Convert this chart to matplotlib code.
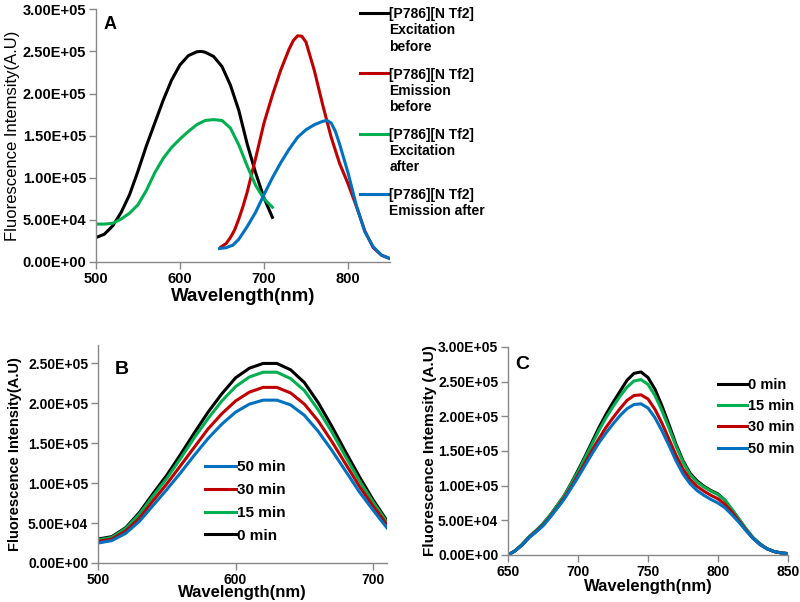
#!/usr/bin/env python3
# coding=utf-8

import matplotlib
matplotlib.use('Agg')
import matplotlib.pyplot as plt

plt.rcParams['font.family'] = ['Liberation Sans', 'DejaVu Sans']

# Farger (Excel-standard)
SVART = '#000000'
ROD = '#C00000'
GRONN = '#00B050'
BLA = '#0070C0'
GRA = '#888888'

# Panel A - eksitasjon/emisjon foer og etter (verdier i 1e4)
a_eks_foer_x = [500, 510, 520, 530, 540, 550, 560, 570, 580, 590, 600, 610,
                620, 625, 630, 640, 650, 660, 670, 680, 690, 700, 710]
a_eks_foer_y = [2.9, 3.3, 4.3, 5.9, 8.0, 10.8, 13.8, 16.5, 19.2, 21.6, 23.4, 24.5,
                24.95, 25.0, 24.9, 24.4, 23.2, 21.0, 18.0, 14.0, 10.6, 7.6, 5.3]

a_eks_etter_x = [500, 510, 520, 530, 540, 550, 560, 570, 580, 590, 600, 610,
                 620, 630, 640, 650, 660, 670, 680, 690, 700, 710]
a_eks_etter_y = [4.5, 4.5, 4.6, 5.1, 5.8, 6.8, 8.5, 10.6, 12.3, 13.6, 14.6, 15.5,
                 16.3, 16.8, 16.9, 16.8, 15.9, 13.9, 11.4, 9.1, 7.5, 6.5]

a_em_foer_x = [649, 655, 660, 665, 670, 675, 680, 690, 700, 710, 720, 730, 735, 740,
               745, 750, 760, 770, 780, 790, 800, 810, 820, 830, 840, 850]
a_em_foer_y = [1.8, 2.2, 2.9, 3.8, 5.1, 6.6, 8.3, 12.3, 16.5, 19.8, 22.8, 25.3, 26.3, 26.85,
               26.8, 26.1, 22.7, 18.6, 14.8, 11.7, 9.3, 6.6, 3.7, 1.7, 0.8, 0.4]

a_em_etter_x = [647, 655, 663, 670, 680, 690, 700, 710, 720, 730, 740, 750, 760,
                765, 770, 775, 780, 785, 790, 800, 810, 820, 830, 840, 850]
a_em_etter_y = [1.6, 1.7, 2.0, 2.7, 4.2, 5.9, 8.0, 10.0, 11.8, 13.4, 14.8, 15.7, 16.3,
                16.5, 16.7, 16.8, 16.5, 15.5, 14.0, 10.6, 6.7, 3.6, 1.8, 0.8, 0.4]

a_etiketter = ['[P786][N Tf2]\nExcitation\nbefore',
               '[P786][N Tf2]\nEmission\nbefore',
               '[P786][N Tf2]\nExcitation\nafter',
               '[P786][N Tf2]\nEmission after']

# Panel B - eksitasjon over tid (verdier i 1e4)
b_x = [500, 510, 520, 530, 540, 550, 560, 570, 580, 590, 600, 610,
       620, 630, 640, 650, 660, 670, 680, 690, 700, 710]
b_0 = [3.0, 3.3, 4.4, 6.3, 8.7, 11.0, 13.6, 16.3, 18.9, 21.2, 23.2, 24.4,
       25.0, 25.0, 24.2, 22.6, 20.1, 17.1, 13.9, 10.8, 7.9, 5.3]
b_15 = [2.9, 3.2, 4.3, 6.1, 8.4, 10.6, 13.1, 15.7, 18.1, 20.3, 22.1, 23.3,
        23.9, 23.9, 23.1, 21.6, 19.2, 16.4, 13.3, 10.3, 7.6, 5.1]
b_30 = [2.7, 3.0, 4.0, 5.6, 7.8, 9.9, 12.2, 14.5, 16.8, 18.7, 20.3, 21.4,
        22.0, 22.0, 21.3, 19.9, 17.8, 15.2, 12.4, 9.6, 7.1, 4.8]
b_50 = [2.5, 2.8, 3.7, 5.2, 7.2, 9.2, 11.3, 13.5, 15.6, 17.4, 18.9, 19.9,
        20.4, 20.4, 19.8, 18.5, 16.5, 14.1, 11.5, 8.9, 6.6, 4.4]

# Panel C - emisjon over tid (verdier i 1e4)
c_x = [650, 655, 660, 665, 670, 675, 680, 685, 690, 695, 700, 705, 710, 715,
       720, 725, 730, 735, 740, 745, 750, 755, 760, 765, 770, 775, 780, 785,
       790, 795, 800, 805, 810, 815, 820, 825, 830, 835, 840, 845, 850]
c_0 = [0.0, 0.6, 1.5, 2.6, 3.5, 4.5, 5.7, 7.1, 8.5, 10.3, 12.2, 14.2, 16.3, 18.4,
       20.3, 22.0, 23.6, 25.2, 26.2, 26.4, 25.6, 23.9, 21.5, 18.8, 16.0, 13.6, 11.8, 10.7,
       9.9, 9.3, 8.8, 7.9, 6.5, 5.1, 3.7, 2.5, 1.6, 0.9, 0.5, 0.3, 0.2]
c_15 = [0.0, 0.6, 1.5, 2.6, 3.5, 4.5, 5.7, 7.1, 8.5, 10.2, 12.0, 14.0, 16.0, 18.0,
        19.8, 21.4, 22.9, 24.2, 25.1, 25.3, 24.6, 23.0, 20.8, 18.3, 15.7, 13.4, 11.6, 10.5,
        9.8, 9.2, 8.7, 7.9, 6.6, 5.2, 3.8, 2.5, 1.6, 0.9, 0.5, 0.3, 0.2]
c_30 = [0.0, 0.6, 1.4, 2.5, 3.4, 4.3, 5.5, 6.8, 8.2, 9.8, 11.5, 13.3, 15.1, 16.8,
        18.4, 19.8, 21.1, 22.3, 23.0, 23.1, 22.5, 21.0, 19.0, 16.7, 14.4, 12.4, 10.9, 9.9,
        9.2, 8.6, 8.1, 7.3, 6.2, 4.9, 3.6, 2.4, 1.5, 0.9, 0.5, 0.3, 0.2]
c_50 = [0.0, 0.6, 1.4, 2.5, 3.3, 4.2, 5.4, 6.7, 8.0, 9.6, 11.2, 12.9, 14.6, 16.2,
        17.6, 18.9, 20.1, 21.1, 21.7, 21.8, 21.2, 19.8, 17.9, 15.8, 13.6, 11.7, 10.3, 9.3,
        8.6, 8.0, 7.5, 6.8, 5.8, 4.7, 3.5, 2.4, 1.5, 0.9, 0.5, 0.3, 0.2]

tid_etiketter = ['0 min', '15 min', '30 min', '50 min']


def skaler(verdier):
    """ Gjoer om fra 1e4-enheter til faktisk intensitet """
    return [v * 1e4 for v in verdier]


def fmt_sci(v, pos):
    """ Excel-format for aksetall, f.eks. 2.50E+05 """
    if v == 0:
        return '0.00E+00'
    return '%.2E' % v


def stil_akse(ax, tickstr=10):
    """ Excel-aktig stil: bare venstre/nedre akse i graatt """
    for s in ['top', 'right']:
        ax.spines[s].set_visible(False)
    for s in ['left', 'bottom']:
        ax.spines[s].set_color(GRA)
        ax.spines[s].set_linewidth(1.0)
    ax.tick_params(direction='out', length=5, width=1, color=GRA,
                   labelsize=tickstr, pad=2)
    ax.yaxis.set_major_formatter(fmt_sci)
    for lbl in ax.get_xticklabels() + ax.get_yticklabels():
        lbl.set_fontweight('bold')


def panel_a(fig):
    ax = fig.add_axes([0.12, 0.5648, 0.3675, 0.4198])
    ax.plot(a_eks_foer_x, skaler(a_eks_foer_y), color=SVART, lw=2.2, label=a_etiketter[0])
    ax.plot(a_em_foer_x, skaler(a_em_foer_y), color=ROD, lw=2.2, label=a_etiketter[1])
    ax.plot(a_eks_etter_x, skaler(a_eks_etter_y), color=GRONN, lw=2.2, label=a_etiketter[2])
    ax.plot(a_em_etter_x, skaler(a_em_etter_y), color=BLA, lw=2.2, label=a_etiketter[3])
    ax.set_xlim(500, 850)
    ax.set_ylim(0, 3e5)
    ax.set_xticks([500, 600, 700, 800])
    ax.set_yticks([i * 5e4 for i in range(7)])
    stil_akse(ax, 10.5)
    ax.set_xlabel('Wavelength(nm)', fontsize=13.5, fontweight='bold', labelpad=2)
    ax.set_ylabel('Fluorescence Intemsity(A.U)', fontsize=12, labelpad=2)
    ax.text(0.025, 0.94, 'A', transform=ax.transAxes, fontsize=13, fontweight='bold',
            va='center')
    leg = ax.legend(loc='upper left', bbox_to_anchor=(0.88, 1.03), frameon=False,
                    handlelength=2.0, handleheight=1.1, handletextpad=0.1,
                    labelspacing=1.0, prop={'weight': 'bold', 'size': 10},
                    borderaxespad=0)
    # strek ved foerste tekstlinje, som i Excel
    for kolonne in leg._legend_handle_box.get_children():
        for rad in kolonne.get_children():
            rad.align = 'top'
    return ax


def panel_b(fig):
    ax = fig.add_axes([0.1225, 0.0648, 0.3612, 0.362])
    linjer = []
    for y, farge, navn in zip([b_0, b_15, b_30, b_50], [SVART, GRONN, ROD, BLA], tid_etiketter):
        l, = ax.plot(b_x, skaler(y), color=farge, lw=2.2, label=navn)
        linjer.append(l)
    ax.set_xlim(500, 710)
    ax.set_ylim(0, 2.73e5)
    ax.set_xticks([500, 600, 700])
    ax.set_yticks([i * 5e4 for i in range(6)])
    stil_akse(ax, 10)
    ax.set_xlabel('Wavelength(nm)', fontsize=12, fontweight='bold', labelpad=-1)
    ax.set_ylabel('Fluorescence Intensity(A.U)', fontsize=10.5, fontweight='bold', labelpad=4)
    ax.text(0.059, 0.89, 'B', transform=ax.transAxes, fontsize=14, fontweight='bold',
            va='center')
    ax.legend(linjer[::-1], tid_etiketter[::-1], loc='upper left',
              bbox_to_anchor=(0.35, 0.50), frameon=False, handlelength=2.0,
              handletextpad=0.1, labelspacing=0.58, borderaxespad=0,
              prop={'weight': 'bold', 'size': 11})
    return ax


def panel_c(fig):
    ax = fig.add_axes([0.635, 0.0781, 0.35, 0.3455])
    for y, farge, navn in zip([c_0, c_15, c_30, c_50], [SVART, GRONN, ROD, BLA], tid_etiketter):
        ax.plot(c_x, skaler(y), color=farge, lw=2.2, label=navn)
    ax.set_xlim(650, 850)
    ax.set_ylim(0, 3e5)
    ax.set_xticks([650, 700, 750, 800, 850])
    ax.set_yticks([i * 5e4 for i in range(7)])
    stil_akse(ax, 10)
    ax.set_xlabel('Wavelength(nm)', fontsize=12, fontweight='bold', labelpad=0)
    ax.set_ylabel('Fluorescence Intemsity (A.U)', fontsize=11, fontweight='bold', labelpad=1)
    ax.text(0.025, 0.918, 'C', transform=ax.transAxes, fontsize=14, fontweight='bold',
            va='center')
    ax.legend(loc='upper left', bbox_to_anchor=(0.73, 0.88), frameon=False,
              handlelength=2.0, handletextpad=0.05, labelspacing=0.5, borderaxespad=0,
              prop={'weight': 'bold', 'size': 10.5})
    return ax


if __name__ == "__main__":
    fig = plt.figure(figsize=(8.0, 6.02), dpi=100)
    panel_a(fig)
    panel_b(fig)
    panel_c(fig)
    fig.savefig('out.png', dpi=100)
